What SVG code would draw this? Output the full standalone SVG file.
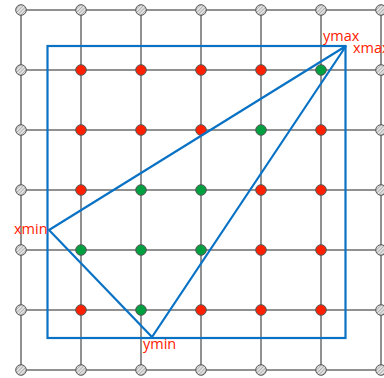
<svg xmlns="http://www.w3.org/2000/svg" width="384" height="378" viewBox="0 0 384 378">
<style>
.g{stroke:#6e6e6e;stroke-width:1.5;fill:none}
.d{stroke:#555;stroke-width:1}
.r{fill:#ff2000}
.gr{fill:#00a040}
.h{fill:url(#hatch)}
.b{stroke:#0a72c4;stroke-width:2.2;fill:none;stroke-linejoin:miter}
.t{font-family:"Open Sans","Liberation Sans",sans-serif;font-size:14.5px;fill:#ff2000}
</style>
<defs>
<pattern id="hatch" patternUnits="userSpaceOnUse" width="2.5" height="2.5" patternTransform="rotate(45)">
<rect width="2.5" height="2.5" fill="#e2e2e2"/>
<line x1="0" y1="0" x2="0" y2="2.5" stroke="#8a8a8a" stroke-width="1"/>
</pattern>
</defs>
<g id="connectors">
<path class="g" d="M21,10H381M21,70H381M21,130H381M21,190H381M21,250H381M21,310H381M21,370H381M21,10V370M81,10V370M141,10V370M201,10V370M261,10V370M321,10V370M381,10V370"/>
</g>
<g id="grid-border-points">
<g class="d h">
<circle cx="21" cy="10" r="5.3"/><circle cx="81" cy="10" r="5.3"/><circle cx="141" cy="10" r="5.3"/><circle cx="201" cy="10" r="5.3"/><circle cx="261" cy="10" r="5.3"/><circle cx="321" cy="10" r="5.3"/><circle cx="381" cy="10" r="5.3"/>
<circle cx="21" cy="370" r="5.3"/><circle cx="81" cy="370" r="5.3"/><circle cx="141" cy="370" r="5.3"/><circle cx="201" cy="370" r="5.3"/><circle cx="261" cy="370" r="5.3"/><circle cx="321" cy="370" r="5.3"/><circle cx="381" cy="370" r="5.3"/>
<circle cx="21" cy="70" r="5.3"/><circle cx="21" cy="130" r="5.3"/><circle cx="21" cy="190" r="5.3"/><circle cx="21" cy="250" r="5.3"/><circle cx="21" cy="310" r="5.3"/>
<circle cx="381" cy="70" r="5.3"/><circle cx="381" cy="130" r="5.3"/><circle cx="381" cy="190" r="5.3"/><circle cx="381" cy="250" r="5.3"/><circle cx="381" cy="310" r="5.3"/>
</g>
</g>
<g id="red-points" class="d r">
<circle cx="81" cy="70" r="5.3"/><circle cx="141" cy="70" r="5.3"/><circle cx="201" cy="70" r="5.3"/><circle cx="261" cy="70" r="5.3"/>
<circle cx="81" cy="130" r="5.3"/><circle cx="141" cy="130" r="5.3"/><circle cx="201" cy="130" r="5.3"/><circle cx="321" cy="130" r="5.3"/>
<circle cx="81" cy="190" r="5.3"/><circle cx="261" cy="190" r="5.3"/><circle cx="321" cy="190" r="5.3"/>
<circle cx="261" cy="250" r="5.3"/><circle cx="321" cy="250" r="5.3"/>
<circle cx="81" cy="310" r="5.3"/><circle cx="201" cy="310" r="5.3"/><circle cx="261" cy="310" r="5.3"/><circle cx="321" cy="310" r="5.3"/>
</g>
<g id="green-points" class="d gr">
<circle cx="321" cy="70" r="5.3"/>
<circle cx="261" cy="130" r="5.3"/>
<circle cx="141" cy="190" r="5.3"/><circle cx="201" cy="190" r="5.3"/>
<circle cx="81" cy="250" r="5.3"/><circle cx="141" cy="250" r="5.3"/><circle cx="201" cy="250" r="5.3"/>
<circle cx="141" cy="310" r="5.3"/>
</g>
<g id="bounding-box">
<rect class="b" x="47.5" y="46" width="298" height="292"/>
</g>
<g id="triangle">
<polygon class="b" points="346,46 49,230 152,337"/>
</g>
<g id="labels">
<text class="t" x="323" y="41">ymax</text>
<text class="t" x="353" y="53">xmax</text>
<text class="t" x="14" y="234">xmin</text>
<text class="t" x="143" y="349">ymin</text>
</g>
</svg>
